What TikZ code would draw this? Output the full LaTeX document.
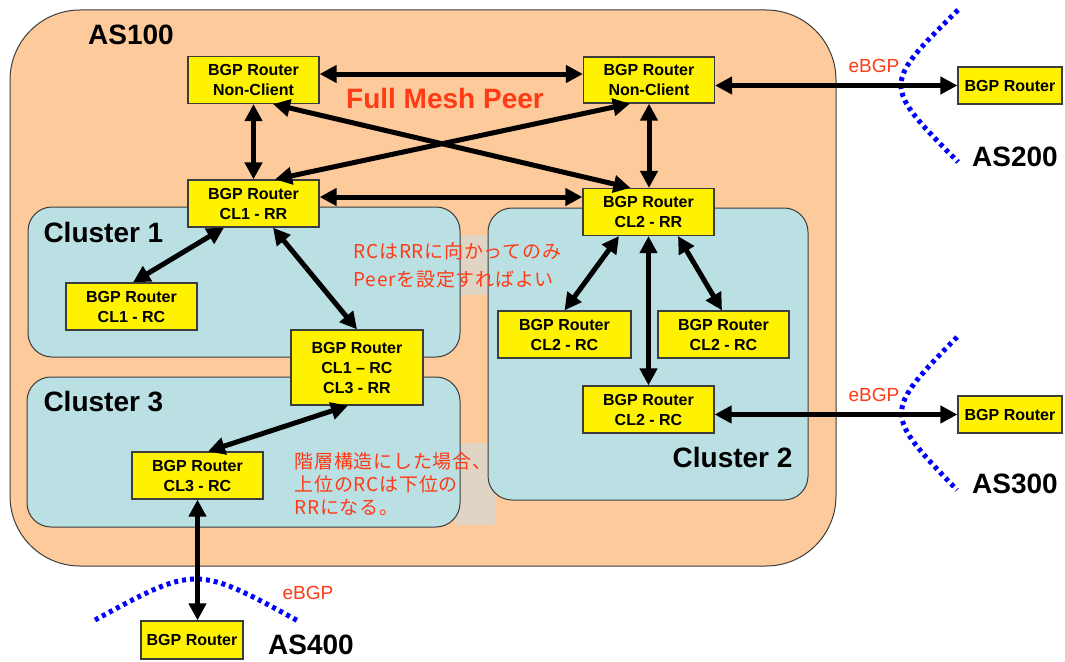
\documentclass[tikz,border=0pt]{standalone}
\usepackage{fontspec}
\setmainfont{Liberation Sans}
\newfontfamily\jpfont[LetterSpace=4]{Noto Sans CJK JP}
\usetikzlibrary{arrows.meta}
\definecolor{asfill}{RGB}{253,202,155}
\definecolor{clfill}{RGB}{186,224,228}
\definecolor{edge}{RGB}{60,60,60}
\definecolor{note}{RGB}{255,58,20}
\definecolor{memo}{RGB}{224,212,196}
\definecolor{asline}{RGB}{0,0,255}

\begin{document}
\begin{tikzpicture}[x=1pt,y=-1pt,
  router/.style={draw=edge, line width=1.2pt, fill=yellow, align=center,
    font=\bfseries\fontsize{16}{20}\selectfont, inner sep=0pt,
    minimum width=131pt, minimum height=47pt},
  extrouter/.style={router, minimum width=104pt, minimum height=37pt},
  link/.style={line width=5pt,
    {Triangle[length=17pt,width=17pt]}-{Triangle[length=17pt,width=17pt]}},
  asarea/.style={draw=edge, line width=1pt, fill=asfill, rounded corners=70pt},
  cluster/.style={draw=edge, line width=1pt, fill=clfill, rounded corners=24pt},
  border/.style={draw=asline, line width=5pt, dash pattern=on 4pt off 4pt},
  biglabel/.style={font=\bfseries\fontsize{28}{32}\selectfont},
  ebgp/.style={text=note, font=\fontsize{19}{22}\selectfont},
  jpnote/.style={text=note, align=left, anchor=west,
    font=\jpfont\fontsize{19}{23}\selectfont}
]
\useasboundingbox (0,0) rectangle (1065,661);

% AS100 area
\draw[asarea] (10,10) rectangle (836,566);

% backgrounds of the two note boxes
\fill[memo] (455,235) rectangle (495,295);
\fill[memo] (455,443) rectangle (495,525);

% clusters
\draw[cluster] (28,207) rectangle (460,357);
\draw[cluster] (27,377) rectangle (460,527);
\draw[cluster] (488,208) rectangle (808,500);

\node[biglabel] (as100) at (131,35) {AS100};
\node[biglabel, anchor=west] (cl1) at (40,232) {Cluster 1};
\node[biglabel, anchor=west] (cl3) at (40,402) {Cluster 3};
\node[biglabel, anchor=east] (cl2) at (796,457) {Cluster 2};
\node[text=note, font=\bfseries\fontsize{28}{32}\selectfont] (mesh) at (445,98) {Full Mesh Peer};

% routers
\node[router] (nc1) at (253.5,80) {BGP Router\\Non-Client};
\node[router, minimum height=46pt] (nc2) at (649,80) {BGP Router\\Non-Client};
\node[router] (rr1) at (253.5,203.5) {BGP Router\\CL1 - RR};
\node[router] (rr2) at (648.5,212) {BGP Router\\CL2 - RR};
\node[router] (rc1) at (131.5,306.5) {BGP Router\\CL1 - RC};
\node[router, minimum width=132pt, minimum height=75pt] (rc13) at (357,367.5) {BGP Router\\CL1 -- RC\\CL3 - RR};
\node[router, minimum width=133pt] (rc2a) at (564.5,334.5) {BGP Router\\CL2 - RC};
\node[router] (rc2b) at (723.5,334.5) {BGP Router\\CL2 - RC};
\node[router] (rc2c) at (648.5,409.5) {BGP Router\\CL2 - RC};
\node[router] (rc3) at (197.5,475.5) {BGP Router\\CL3 - RC};

% neighbouring AS routers
\node[extrouter] (e200) at (1010,85.5) {BGP Router};
\node[extrouter] (e300) at (1010,414.5) {BGP Router};
\node[extrouter, minimum width=102pt, minimum height=38pt] (e400) at (192,640) {BGP Router};

% AS boundaries
\draw[border] (958,10) .. controls (882,85) .. (958,162);
\draw[border] (957,337) .. controls (883,413) .. (957,490);
\draw[border] (95,620) .. controls (196,565) .. (300,622);

\node[biglabel] (as200) at (1015,157) {AS200};
\node[biglabel] (as300) at (1015,484) {AS300};
\node[biglabel] (as400) at (311,645) {AS400};
\node[ebgp] (eb200) at (874,66) {eBGP};
\node[ebgp] (eb300) at (874,395) {eBGP};
\node[ebgp] (eb400) at (308,593) {eBGP};

% full mesh between non-clients and route reflectors
\draw[link] (nc1.east |- 0,74) -- (nc2.west |- 0,74);
\draw[link] (nc1.south) -- (rr1.north);
\draw[link] (nc2.south) -- (nc2.south |- rr2.north);
\draw[link] ([xshift=19.5pt]nc1.south) -- ([xshift=-18pt]rr2.north);
\draw[link] ([xshift=-19pt]nc2.south) -- ([xshift=21.5pt]rr1.north);
\draw[link] (rr1.east |- 0,197) -- (rr2.west |- 0,197);

% cluster 1 and cluster 3
\draw[link] ([xshift=-29.5pt]rr1.south) -- ([xshift=1.5pt]rc1.north);
\draw[link] ([xshift=19.5pt]rr1.south) -- (rc13.north);
\draw[link] ([xshift=-9pt]rc13.south) -- ([xshift=10.5pt]rc3.north);

% cluster 2
\draw[link] ([xshift=-29.5pt]rr2.south) -- (rc2a.north);
\draw[link] ([xshift=29.5pt]rr2.south) -- ([xshift=-1.5pt]rc2b.north);
\draw[link] (rr2.south) -- (rc2c.north);

% eBGP sessions
\draw[link] (nc2.east |- e200.west) -- (e200.west);
\draw[link] (rc2c.east |- e300.west) -- (e300.west);
\draw[link] (rc3.south) -- (rc3.south |- e400.north);

% notes
\node[jpnote, font=\jpfont\fontsize{19}{28}\selectfont] (note1) at (350,265) {RCはRRに向かってのみ\\Peerを設定すればよい};
\node[jpnote] (note2) at (291,484) {階層構造にした場合、\\上位のRCは下位の\\RRになる。};
\end{tikzpicture}
\end{document}
